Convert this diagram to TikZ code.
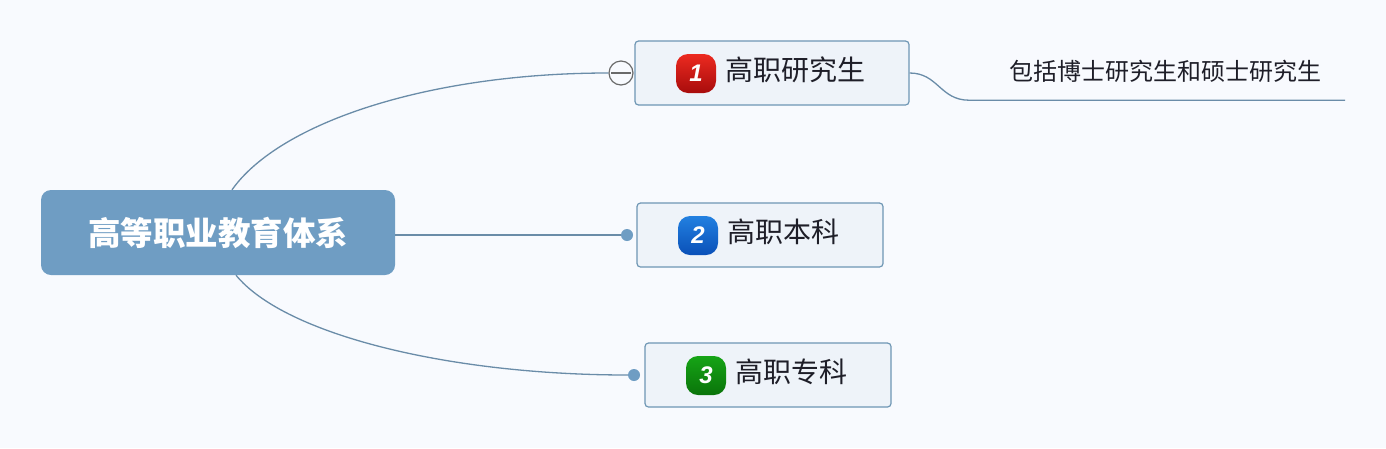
\documentclass[tikz,border=0pt]{standalone}
\usepackage{fontspec}
\newfontfamily\cjk{Noto Sans CJK SC}
\newfontfamily\numfont{Liberation Sans}
\definecolor{mapbg}{HTML}{F8FAFE}
\definecolor{mapblue}{HTML}{6F9DC3}
\definecolor{mapline}{HTML}{6A8CA8}
\definecolor{mapedge}{HTML}{6E96B4}
\definecolor{mapfill}{HTML}{EEF3F9}
\definecolor{mapink}{HTML}{1E1E28}
\definecolor{foldgray}{HTML}{6A6A6A}
\definecolor{redtop}{HTML}{EC2A20}
\definecolor{redlow}{HTML}{A80C0C}
\definecolor{bluetop}{HTML}{2280E0}
\definecolor{bluelow}{HTML}{0A50B8}
\definecolor{greentop}{HTML}{16A416}
\definecolor{greenlow}{HTML}{0A740A}
\usetikzlibrary{calc}

\begin{document}
\begin{tikzpicture}[
    x=1pt, y=-1pt,
    rootbox/.style={rectangle, rounded corners=10pt, fill=mapblue, draw=none,
                    minimum width=354pt, minimum height=85pt, inner sep=0pt,
                    text=white, align=center,
                    font=\cjk\bfseries\fontsize{32.5}{36}\selectfont},
    topicbox/.style={rectangle, rounded corners=3.5pt, fill=mapfill,
                     draw=mapedge, line width=1.2pt, minimum height=64pt,
                     inner sep=0pt},
    toptext/.style={inner sep=0pt, text=mapink,
                    font=\cjk\fontsize{28}{32}\selectfont},
    badge/.style={rectangle, rounded corners=12pt, minimum width=40pt,
                  minimum height=39pt, inner sep=0pt, text=white,
                  font=\numfont\bfseries\itshape\fontsize{24}{28}\selectfont},
    notetext/.style={inner sep=0pt, text=mapink, minimum width=376pt,
                     minimum height=58pt, align=center,
                     font=\cjk\fontsize{24}{28}\selectfont},
    link/.style={draw=mapline, line width=1.3pt},
    enddot/.style={circle, fill=mapblue, minimum size=12pt, inner sep=0pt},
    foldmark/.style={circle, fill=mapbg, draw=foldgray, line width=1.2pt,
                     minimum size=24pt, inner sep=0pt}
  ]
    % Background (fixes the margins)
    \fill[mapbg] (0,0) rectangle (1386,448);
    \useasboundingbox (0,0) rectangle (1386,448);
    % Root node
    \node[rootbox] (root) at (218, 232.5) {高等职业教育体系};
    % Topic boxes
    \node[topicbox, minimum width=274pt] (gradbox) at (772, 73) {};
    \node[topicbox, minimum width=246pt] (bachbox) at (760, 235) {};
    \node[topicbox, minimum width=246pt] (collbox) at (768, 375) {};
    % Badges
    \node[badge, top color=redtop, bottom color=redlow]
      (badge1) at (696, 73.5) {1};
    \node[badge, top color=bluetop, bottom color=bluelow]
      (badge2) at (698, 235.5) {2};
    \node[badge, top color=greentop, bottom color=greenlow]
      (badge3) at (706, 375.5) {3};
    % Topic labels
    \node[toptext, anchor=west] (gradtext) at (725, 70) {高职研究生};
    \node[toptext, anchor=west] (bachtext) at (727, 232) {高职本科};
    \node[toptext, anchor=west] (colltext) at (735, 372) {高职专科};
    % Note on the first topic
    \node[notetext] (note) at (1157, 71) {\hspace*{16pt}包括博士研究生和硕士研究生};
    % Branch ends
    \node[foldmark] (fold) at (621, 73) {};
    \node[enddot] (dot2) at (627, 235) {};
    \node[enddot] (dot3) at (634, 375) {};
    % Branches from the root
    \draw[link] ([xshift=14pt]root.north) .. controls (280, 122) and (430, 73) .. (fold.west);
    \draw[link] (root.east |- dot2) -- (dot2);
    \draw[link] ([xshift=18pt]root.south) .. controls (285, 335) and (450, 375) .. (dot3);
    % Minus sign in the fold mark
    \draw[foldgray, line width=1.2pt] ([xshift=3pt]fold.west) -- ([xshift=-3pt]fold.east);
    % Note link and underline
    \draw[link] (gradbox.east) .. controls (938, 73) and (940, 100) .. (note.south west)
      -- (note.south east);
\end{tikzpicture}
\end{document}
